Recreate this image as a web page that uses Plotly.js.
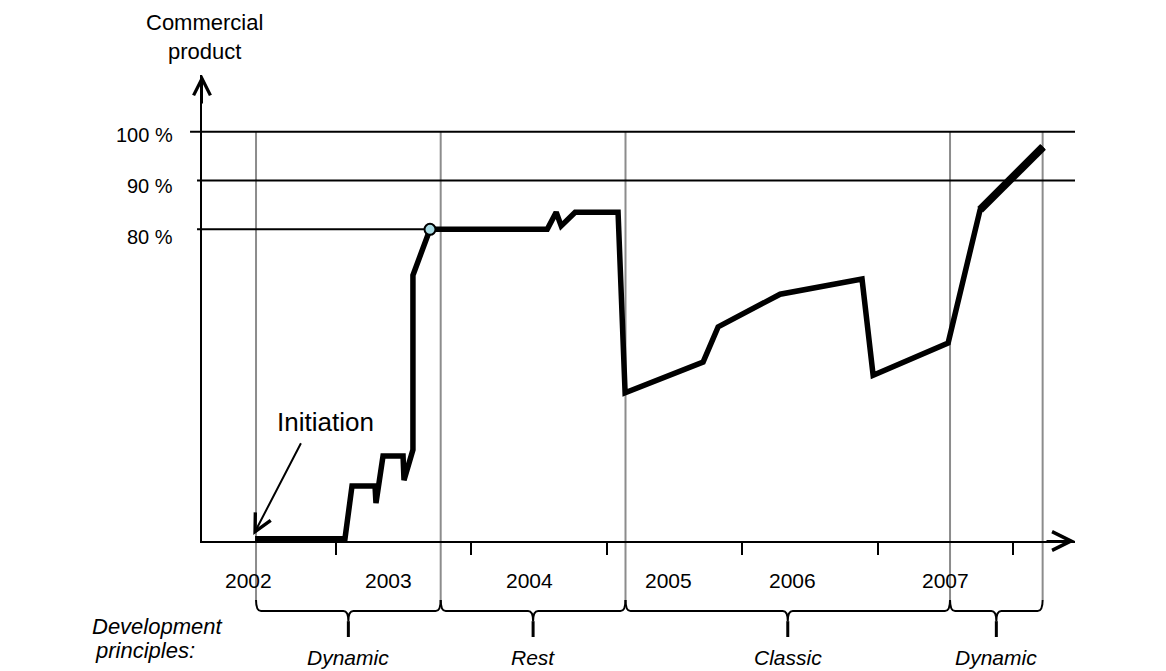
<!DOCTYPE html>
<html>
<head>
<meta charset="utf-8">
<script src="https://cdn.plot.ly/plotly-3.0.1.min.js"></script>
<style>html,body{margin:0;padding:0;background:#fff;}#chart{width:1166px;height:671px;}</style>
</head>
<body>
<div id="chart"></div>
<script>
// ---- data (x in years, y in % of commercial product) ----
const years = [2002.402, 2003.066, 2003.118, 2003.288, 2003.295, 2003.347, 2003.495, 2003.502,
               2003.568, 2003.568, 2003.694, 2004.560, 2004.626, 2004.663, 2004.766, 2005.083,
               2005.135, 2005.711, 2005.822, 2006.280, 2006.885, 2006.967, 2007.521, 2007.757, 2008.222];
const share = [16.6, 16.6, 27.4, 27.4, 23.9, 33.55, 33.55, 28.6,
               34.8, 70.6, 80.0, 80.0, 83.5, 80.7, 83.5, 83.5,
               46.5, 52.8, 60.0, 66.7, 69.8, 50.1, 56.7, 84.0, 96.9];
const milestoneIndex = 10;               // circled point where the 80 % level is reached
const levels = [80, 90, 100];
const levelLabels = ['80 %', '90 %', '100 %'];
const yearTicks = [2003, 2004, 2005, 2006, 2007, 2008];
const yearLabels = ['2002', '2003', '2004', '2005', '2006', '2007'];
const phaseBounds = [2002.409, 2003.773, 2005.138, 2007.535, 2008.219];
const principles = ['Dynamic', 'Rest', 'Classic', 'Dynamic'];
const initiationYear = 2002.389;
const initiationLevel = 17.35;

// ---- layout helpers ----
const xr = [2002.01, 2008.458];
const yr = [16.13, 111.62];
const labelPos = [2002.350, 2003.384, 2004.426, 2005.452, 2006.368, 2007.504];
const levelShift = [-8, -5, -3];
const FONT = 'Liberation Sans, Arial, sans-serif';
const toPaperX = v => (v - xr[0]) / (xr[1] - xr[0]);
const toPaperY = v => (v - yr[0]) / (yr[1] - yr[0]);

const traces = [
  {x: years, y: share, mode: 'lines', line: {color: '#000', width: 5.5}, hoverinfo: 'skip', showlegend: false},
  {x: years.slice(-2), y: share.slice(-2), mode: 'lines', line: {color: '#000', width: 8}, hoverinfo: 'skip', showlegend: false},
  {x: [years[milestoneIndex]], y: [share[milestoneIndex]], mode: 'markers', cliponaxis: false,
   marker: {size: 11, color: '#a9dbe4', line: {color: '#000', width: 2}}, hoverinfo: 'skip', showlegend: false}
];

const shapes = [];
// grey phase separators
const sepTop = toPaperY(100);
const sepBot = -0.1266, brY = -0.1502, tipMid = -0.172, tipBot = -0.206;
phaseBounds.forEach(b => {
  shapes.push({type: 'line', layer: 'below', xref: 'x', yref: 'paper', x0: b, x1: b, y0: sepBot, y1: sepTop,
               line: {color: '#8c8c8c', width: 2}});
});
// horizontal level lines
shapes.push({type: 'line', layer: 'below', xref: 'paper', yref: 'y', x0: -0.0137, x1: 1, y0: 100, y1: 100, line: {color: '#000', width: 2}});
shapes.push({type: 'line', layer: 'below', xref: 'paper', yref: 'y', x0: -0.0057, x1: 1, y0: 90, y1: 90, line: {color: '#000', width: 2}});
shapes.push({type: 'line', layer: 'below', xref: 'paper', yref: 'y', x0: -0.0057, x1: toPaperX(years[milestoneIndex]), y0: 80, y1: 80, line: {color: '#000', width: 2}});
// curly brackets under the phases
const cx = 0.037;
for (let i = 0; i < principles.length; i++) {
  const a = phaseBounds[i], b = phaseBounds[i + 1], m = (a + b) / 2;
  const p = `M${a},${sepBot} Q${a},${brY} ${a + cx},${brY} L${m - cx},${brY} Q${m},${brY} ${m},${tipMid} ` +
            `M${m},${tipMid} Q${m},${brY} ${m + cx},${brY} L${b - cx},${brY} Q${b},${brY} ${b},${sepBot}`;
  shapes.push({type: 'path', xref: 'x', yref: 'paper', path: p, line: {color: '#000', width: 2}});
  shapes.push({type: 'line', xref: 'x', yref: 'paper', x0: m, x1: m, y0: tipMid, y1: tipBot, line: {color: '#000', width: 3}});
}

const annotations = [];
annotations.push({xref: 'paper', yref: 'paper', x: 0.003, y: 1.0805, xanchor: 'center', yanchor: 'middle',
  text: 'Commercial<br>product', showarrow: false, font: {family: FONT, size: 22, color: '#000'}});
levels.forEach((v, i) => annotations.push({xref: 'paper', yref: 'y', x: -0.0309, y: v, xanchor: 'right', yanchor: 'middle',
  yshift: levelShift[i], text: levelLabels[i], showarrow: false, font: {family: FONT, size: 20, color: '#000'}}));
yearLabels.forEach((t, i) => annotations.push({xref: 'x', yref: 'paper', x: labelPos[i], y: -0.0837, xanchor: 'center', yanchor: 'middle',
  text: t, showarrow: false, font: {family: FONT, size: 21, color: '#000'}}));
principles.forEach((t, i) => annotations.push({xref: 'x', yref: 'paper', x: (phaseBounds[i] + phaseBounds[i + 1]) / 2, y: -0.251,
  xanchor: 'center', yanchor: 'middle', text: '<i>' + t + '</i>', showarrow: false, font: {family: FONT, size: 21, color: '#000'}}));
annotations.push({xref: 'paper', yref: 'paper', x: -0.1283, y: -0.1845, xanchor: 'left', yanchor: 'middle',
  text: '<i>Development</i>', showarrow: false, font: {family: FONT, size: 22, color: '#000'}});
annotations.push({xref: 'paper', yref: 'paper', x: -0.125, y: -0.234, xanchor: 'left', yanchor: 'middle',
  text: '<i>principles:</i>', showarrow: false, font: {family: FONT, size: 22, color: '#000'}});
// initiation label and arrow
annotations.push({xref: 'x', yref: 'y', x: 2002.919, y: 40.6, xanchor: 'center', yanchor: 'middle',
  text: 'Initiation', showarrow: false, font: {family: FONT, size: 26, color: '#000'}});
annotations.push({xref: 'x', yref: 'y', x: initiationYear, y: initiationLevel, ax: 48.4, ay: -93.3, text: '',
  showarrow: true, arrowhead: 5, arrowsize: 1.7, arrowwidth: 2, arrowcolor: '#000'});
// axis arrows
annotations.push({xref: 'paper', yref: 'paper', x: 1, y: 0, ax: -30, ay: 0, text: '',
  showarrow: true, arrowhead: 5, arrowsize: 1.85, arrowwidth: 2, arrowcolor: '#000'});
annotations.push({xref: 'paper', yref: 'paper', x: 0, y: 1, ax: 0, ay: 30, text: '',
  showarrow: true, arrowhead: 5, arrowsize: 1.65, arrowwidth: 2, arrowcolor: '#000'});

const layout = {
  width: 1166, height: 671,
  margin: {l: 202, r: 91, t: 75, b: 130, pad: 0},
  paper_bgcolor: '#fff', plot_bgcolor: '#fff',
  showlegend: false,
  xaxis: {range: xr, showgrid: false, zeroline: false, showline: true, linecolor: '#000', linewidth: 2,
          ticks: 'outside', tickvals: yearTicks, ticklen: 12, tickwidth: 2, tickcolor: '#000', showticklabels: false, fixedrange: true},
  yaxis: {range: yr, showgrid: false, zeroline: false, showline: true, linecolor: '#000', linewidth: 2,
          ticks: '', showticklabels: false, fixedrange: true},
  shapes: shapes,
  annotations: annotations
};

Plotly.newPlot('chart', traces, layout, {displayModeBar: false, staticPlot: true});
</script>
</body>
</html>
